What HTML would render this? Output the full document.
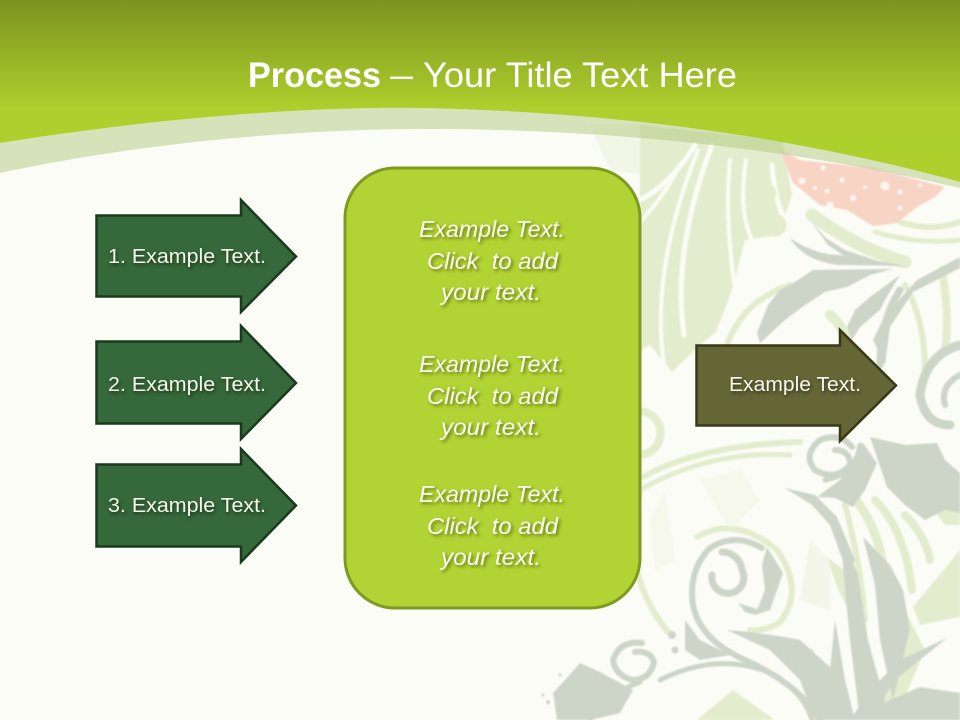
<!DOCTYPE html>
<html lang="en">
<head>
<meta charset="utf-8">
<title>Process</title>
<style>
html,body{margin:0;padding:0;background:#fbfcf6}
svg{display:block}
text{font-family:"Liberation Sans",sans-serif}
.s{fill:#f6f8ea;filter:drop-shadow(1px 2px 1.5px rgba(0,0,0,.5))}
.i{fill:#fbfdf0;font-style:italic;font-size:23px;filter:drop-shadow(2px 2px 1.5px rgba(50,60,0,.6))}
</style>
</head>
<body>
<svg width="960" height="720" viewBox="0 0 960 720" xmlns="http://www.w3.org/2000/svg">
<defs>
<linearGradient id="top" x1="0" y1="0" x2="0" y2="1">
<stop offset="0" stop-color="#7c931f"/>
<stop offset=".6" stop-color="#aecf2d"/>
<stop offset="1" stop-color="#afd02c"/>
</linearGradient>
<filter id="soft" x="-5%" y="-5%" width="110%" height="110%"><feGaussianBlur stdDeviation=".8"/></filter>
</defs>
<rect width="960" height="720" fill="#fbfcf6"/>

<g filter="url(#soft)">
<!-- light green fronds, upper -->
<path fill="#eef3e0" d="M590 125L640 125L640 175L610 170Z" opacity=".7"/>
<path fill="#e3edcd" d="M640 125L782 140L792 195L778 235L745 240L732 290L716 332L700 345L672 372L650 345L640 350Z"/>
<g fill="none" stroke="#fbfcf6" stroke-linecap="round">
<path stroke-width="5" d="M640 200Q670 185 695 145"/>
<path stroke-width="4" d="M640 222Q665 195 680 165"/>
<path stroke-width="4" d="M664 365Q650 270 698 150"/>
<path stroke-width="5" d="M684 335Q672 250 712 145"/>
<path stroke-width="4" d="M730 160Q724 225 737 300"/>
<path stroke-width="4" d="M746 160Q738 210 752 240"/>
<path stroke-width="5" d="M772 165Q775 210 795 240"/>
</g>
<g fill="none" stroke="#e3edcd" stroke-linecap="round">
<circle cx="767" cy="193" r="7" stroke-width="5"/>
<circle cx="775" cy="225" r="9" stroke-width="5"/>
<path stroke-width="13" d="M812 215Q860 250 905 262"/>
<path stroke-width="5" d="M875 232Q920 245 960 240"/>
<path stroke-width="6" d="M900 222Q930 232 960 222"/>
<path stroke-width="6" d="M728 342Q745 300 790 285"/>
<path stroke-width="10" d="M830 315Q842 325 848 342"/>
<path stroke-width="6" d="M905 285Q925 320 925 370"/>
<path stroke-width="8" d="M942 270Q950 320 945 350"/>
<path stroke-width="8" d="M640 433m-8 -21a22 22 0 1 1 0 42"/>
<path stroke-width="6" d="M643 477Q700 445 800 442"/>
<path stroke-width="5" d="M640 490Q710 450 790 455"/>
<path stroke-width="6" d="M640 490Q618 570 668 632"/>
<path stroke-width="6" d="M697 537Q735 515 777 550Q805 590 780 622Q765 632 750 630"/>
<path stroke-width="9" d="M852 495Q890 540 885 615"/>
<path stroke-width="8" d="M875 500Q905 530 912 590"/>
<path stroke-width="8" d="M905 515Q925 535 930 560"/>
<path stroke-width="6" d="M845 505Q860 560 865 620"/>
</g>
<g fill="#e3edcd">
<path d="M827 557L853 577L847 607L837 587Z"/>
<path d="M913 607L960 550L960 617L920 625Z"/>
<path d="M697 720L733 690L775 720Z"/>
<path d="M905 610L925 650L895 720L880 700Z"/>
<path d="M930 505L960 490L960 525L945 525Z"/>
</g>
<g fill="#eff4e2">
<path d="M700 480L740 470L760 500L730 530Z" opacity=".5"/>
<path d="M650 520L665 490L675 560L655 570Z" opacity=".5"/>
<path d="M810 540L830 560L830 610L800 600Z" opacity=".7"/>
</g>

<!-- pink flower -->
<path fill="#f8d4c5" d="M780 150L800 160L827 163L873 168L945 187L935 197L917 207L897 223L873 226L847 210L820 205L793 183Z"/>
<g fill="#fdf6f0">
<circle cx="802" cy="181" r="3.5"/><circle cx="815" cy="188" r="2"/><circle cx="827" cy="191" r="2.5"/><circle cx="823" cy="168" r="2.5"/><circle cx="842" cy="180" r="2.5"/><circle cx="853" cy="198" r="3"/><circle cx="830" cy="205" r="3.5"/><circle cx="885" cy="186" r="4.5"/><circle cx="900" cy="192" r="2.5"/><circle cx="900" cy="208" r="2.5"/><circle cx="920" cy="185" r="2"/><circle cx="865" cy="187" r="2"/>
</g>

<!-- grey leaves -->
<g fill="#cdd5c8">
<path d="M790 238Q815 255 840 255L907 266L840 265Q805 262 790 238Z"/>
<path d="M810 220L826 238L845 250L893 266L853 262L828 245Z"/>
<path d="M757 333L768 305L780 290L795 282L813 270L893 269L870 275L847 287L825 292L805 305L785 320L760 343Z"/>
<path d="M847 327L855 310L870 297L900 275L885 300L880 310L860 327L852 340Z"/>
<path d="M960 257L917 280L885 315L873 340L885 365L890 327L913 292L960 268Z"/>
<path d="M817 497L840 480L863 443L877 463L865 490L853 507L835 498Z"/>
<path d="M870 437L905 445L937 443L945 460L960 473L960 513L945 510L925 520L905 505L887 487Z"/>
<path d="M785 488L815 495L837 517L855 560L848 575L830 525L812 505Z"/>
<path d="M840 530L858 575L868 640L890 720L860 720L850 640L845 590Z"/>
<path d="M863 537L890 565L903 590L910 630L893 700L880 640L875 585Z"/>
<path d="M835 620L845 680L855 720L835 720L830 670Z"/>
<path d="M727 630L750 632L785 637L800 640L830 667L837 720L815 720L800 680L770 650Z"/>
<path d="M947 638L900 660L870 690L850 720L870 720L895 680Z"/>
<path d="M920 687L960 693L960 720L860 720L890 700Z"/>
<path d="M685 620L700 640L730 655L700 660L685 650Z"/>
<path d="M580 663L600 672L633 690L620 713L590 720L557 720L553 693L565 680Z"/>
<path d="M767 547L783 573L770 610L755 615L765 590L762 565Z"/>
<path d="M738 603L760 610L755 615L745 612Z"/>
</g>
<g fill="none" stroke="#cdd5c8" stroke-linecap="round">
<path stroke-width="7" d="M712 575A16 16 0 1 0 742 570A20 20 0 0 0 722 552"/>
<path stroke-width="6" d="M762 548Q735 532 710 548Q688 570 693 605Q700 640 745 660Q800 685 820 720"/>
<path stroke-width="5" d="M660 680Q720 650 775 675Q805 695 812 720"/>
<path stroke-width="6" d="M642 643Q620 640 613 660Q615 675 632 680Q650 680 654 662Q650 650 635 652"/>
<path stroke-width="5" d="M640 682Q605 695 590 720"/>
<path stroke-width="6" d="M852 447Q840 432 820 440Q802 455 815 470Q835 482 850 465Q850 450 835 450"/>
<path stroke-width="5" d="M860 445Q855 475 825 480"/>
<path stroke-width="9" d="M960 345Q925 355 920 395Q925 425 950 425"/>
<path stroke-width="6" d="M960 375Q940 385 945 405"/>
<path stroke-width="7" d="M900 290Q880 320 880 365"/>
</g>
<g fill="#cdd5c8"><circle cx="672" cy="635" r="4"/><circle cx="675" cy="650" r="3.5"/><circle cx="810" cy="653" r="4"/><circle cx="543" cy="695" r="1.5"/><circle cx="548" cy="702" r="2"/><circle cx="560" cy="675" r="1.5"/></g>
</g>

<!-- translucent band and green header -->
<path fill="#afc77d" opacity=".5" d="M0 143C130 122 290 106 420 108C620 112 800 138 960 182L960 188C800 150 620 130 440 129C290 128 130 145 0 173Z"/>
<path fill="url(#top)" d="M0 0H960V182C800 138 620 112 420 108C290 106 130 122 0 143Z"/>

<!-- title -->
<text x="248" y="87" font-size="35" font-weight="700" fill="#fff" textLength="133" lengthAdjust="spacingAndGlyphs">Process</text>
<text x="390" y="87" font-size="35" fill="#fff" textLength="23" lengthAdjust="spacingAndGlyphs">–</text>
<text x="423" y="87" font-size="35" fill="#fff" textLength="314" lengthAdjust="spacingAndGlyphs">Your Title Text Here</text>

<!-- left arrows -->
<g fill="#35683a" stroke="#1b3a1c" stroke-width="2.5">
<polygon points="96.5,215.5 241,215.5 241,200 296,256.5 241,312 241,296.5 96.5,296.5"/>
<polygon points="96.5,341.5 241,341.5 241,326 296,383 241,439 241,423.5 96.5,423.5"/>
<polygon points="96.5,464.5 241,464.5 241,449 296,505.5 241,562 241,546.5 96.5,546.5"/>
</g>
<text class="s" x="108" y="263" font-size="20" textLength="158" lengthAdjust="spacingAndGlyphs">1. Example Text.</text>
<text class="s" x="108" y="391" font-size="20" textLength="158" lengthAdjust="spacingAndGlyphs">2. Example Text.</text>
<text class="s" x="108" y="512" font-size="20" textLength="158" lengthAdjust="spacingAndGlyphs">3. Example Text.</text>

<!-- centre panel -->
<rect x="345" y="168" width="295" height="440" rx="50" ry="50" fill="#b2d334" stroke="#7f9a22" stroke-width="3"/>
<text class="i" x="419" y="237" textLength="146" lengthAdjust="spacingAndGlyphs">Example Text.</text>
<text class="i" x="427" y="269" textLength="131" lengthAdjust="spacingAndGlyphs" xml:space="preserve">Click  to add</text>
<text class="i" x="441" y="300" textLength="100" lengthAdjust="spacingAndGlyphs">your text.</text>
<text class="i" x="419" y="372" textLength="146" lengthAdjust="spacingAndGlyphs">Example Text.</text>
<text class="i" x="427" y="404" textLength="131" lengthAdjust="spacingAndGlyphs" xml:space="preserve">Click  to add</text>
<text class="i" x="441" y="435" textLength="100" lengthAdjust="spacingAndGlyphs">your text.</text>
<text class="i" x="419" y="502" textLength="146" lengthAdjust="spacingAndGlyphs">Example Text.</text>
<text class="i" x="427" y="534" textLength="131" lengthAdjust="spacingAndGlyphs" xml:space="preserve">Click  to add</text>
<text class="i" x="441" y="565" textLength="100" lengthAdjust="spacingAndGlyphs">your text.</text>

<!-- right arrow -->
<polygon points="696.5,345.5 840,345.5 840,330 896,385.5 840,441 840,425.5 696.5,425.5" fill="#656636" stroke="#39391a" stroke-width="2.5"/>
<text class="s" x="729" y="391" font-size="20" textLength="132" lengthAdjust="spacingAndGlyphs">Example Text.</text>
</svg>
</body>
</html>
